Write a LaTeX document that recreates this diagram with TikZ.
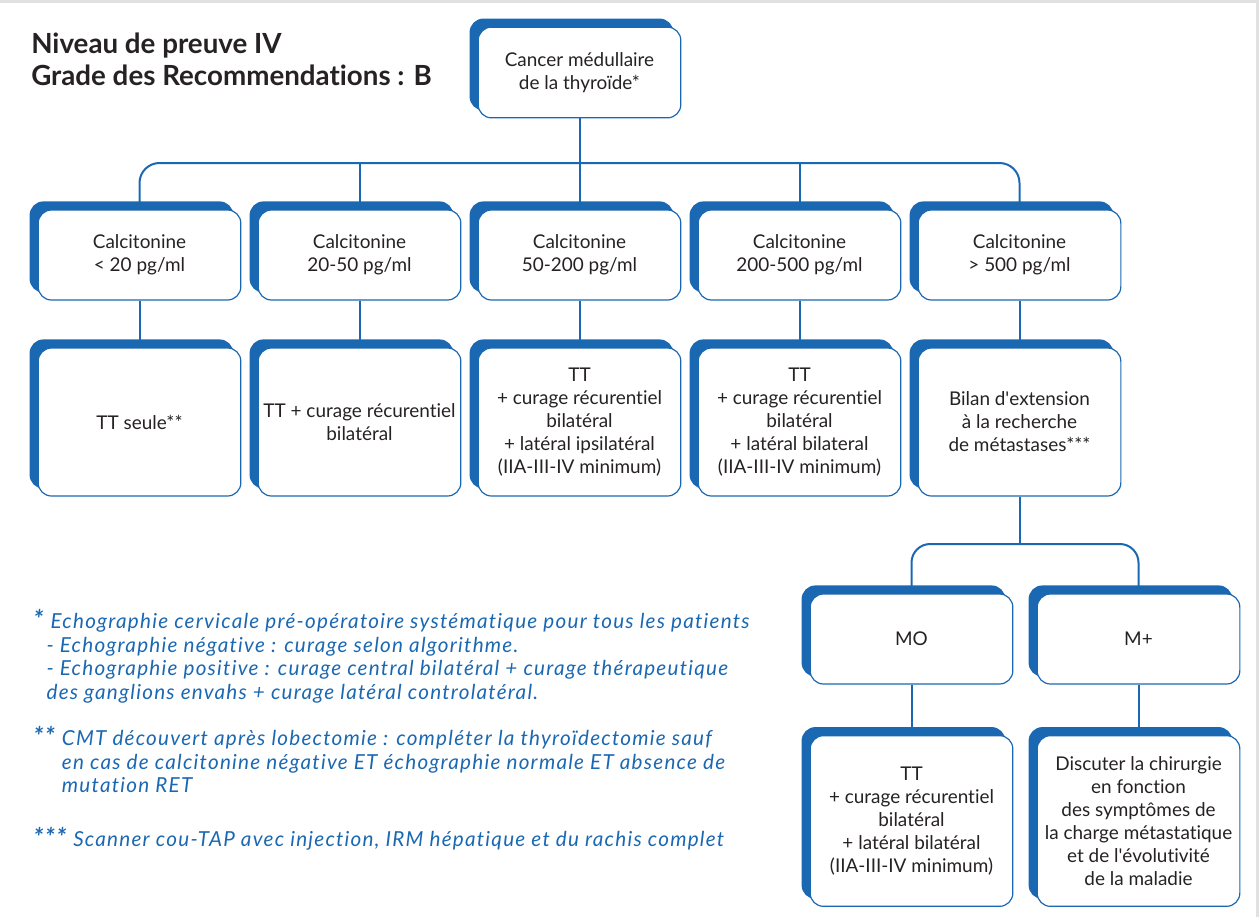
\documentclass[tikz,border=0pt]{standalone}
\usepackage{fontspec}
\setmainfont{Lato}[Ligatures=NoCommon]
\newfontfamily\notefont{Lato}[LetterSpace=6,Ligatures=NoCommon]
\usetikzlibrary{shadows,backgrounds}
\definecolor{mblue}{RGB}{27,104,178}
\definecolor{ink}{RGB}{38,34,35}
\definecolor{frame}{RGB}{225,225,225}
\newcommand{\stars}[1]{{\fontsize{19}{17.8}\selectfont\bfseries #1}}
\begin{document}
\begin{tikzpicture}[x=0.75pt,y=-0.75pt,
  box/.style={draw=mblue, line width=0.9pt, fill=white, rounded corners=10pt,
    minimum width=152pt, align=center, text=ink, inner sep=1pt,
    font=\fontsize{14.2}{17.3}\selectfont,
    copy shadow={shadow xshift=-6pt, shadow yshift=6pt, fill=mblue, draw=mblue}},
  lvlone/.style={box, minimum height=67.5pt},
  lvltwo/.style={box, minimum height=111pt},
  lvlfour/.style={box, minimum height=128pt},
  conn/.style={draw=mblue, line width=1.5pt},
  note/.style={anchor=north west, align=left, inner sep=0pt, text=mblue,
    font=\notefont\fontsize{15.5}{17.8}\selectfont\itshape}]
\useasboundingbox (0,0) rectangle (1259,917);

% thin page frame along the top and right edges
\fill[frame] (0,0) rectangle (1259,3);
\fill[frame] (1256,0) rectangle (1259,917);

% title
\node[anchor=north west, align=left, inner sep=0pt, text=ink,
  font=\fontsize{20.8}{24}\selectfont\bfseries] (title) at (31,33)
  {Niveau de preuve IV\\Grade des Recommendations : B};

% root
\node[box, minimum height=68pt] (root) at (579.5,72.5) {Cancer médullaire\\de la thyroïde*};

% calcitonine levels
\node[lvlone] (c1) at (139.5,255) {Calcitonine\\< 20 pg/ml};
\node[lvlone] (c2) at (359.5,255) {Calcitonine\\20-50 pg/ml};
\node[lvlone] (c3) at (579.5,255) {Calcitonine\\50-200 pg/ml};
\node[lvlone] (c4) at (799.5,255) {Calcitonine\\200-500 pg/ml};
\node[lvlone] (c5) at (1019.5,255) {Calcitonine\\> 500 pg/ml};

% treatments
\node[lvltwo] (t1) at (139.5,422) {TT seule**};
\node[lvltwo] (t2) at (359.5,422) {TT + curage récurentiel\\bilatéral};
\node[lvltwo] (t3) at (579.5,422) {TT\\+ curage récurentiel\\bilatéral\\+ latéral ipsilatéral\\(IIA-III-IV minimum)};
\node[lvltwo] (t4) at (799.5,422) {TT\\+ curage récurentiel\\bilatéral\\+ latéral bilateral\\(IIA-III-IV minimum)};
\node[lvltwo] (t5) at (1019.5,422) {Bilan d\textquotesingle extension\\à la recherche\\de métastases***};

% metastatic status
\node[lvlone] (mo) at (911.5,639) {MO};
\node[lvlone] (mp) at (1138.5,639) {M+};

% final decisions
\node[lvlfour] (f1) at (911.5,821) {TT\\+ curage récurentiel\\bilatéral\\+ latéral bilatéral\\(IIA-III-IV minimum)};
\node[lvlfour] (f2) at (1138.5,821) {Discuter la chirurgie\\en fonction\\des symptômes de\\la charge métastatique\\et de l\textquotesingle évolutivité\\de la maladie};

% connectors
\begin{scope}[on background layer]
  \coordinate (busa) at (0,163);
  \coordinate (busb) at (0,544);
  \draw[conn] (root.south) -- (root.south |- busa);
  \draw[conn, rounded corners=15pt] (c1.north) -- (c1.north |- busa) -- (c5.north |- busa) -- (c5.north);
  \foreach \n in {c2,c3,c4} \draw[conn] (\n.north |- busa) -- (\n.north);
  \foreach \a/\b in {c1/t1,c2/t2,c3/t3,c4/t4,c5/t5} \draw[conn] (\a.south) -- (\b.north);
  \draw[conn] (t5.south) -- (t5.south |- busb);
  \draw[conn, rounded corners=14pt] (mo.north) -- (mo.north |- busb) -- (mp.north |- busb) -- (mp.north);
  \draw[conn] (mo.south) -- (f1.north);
  \draw[conn] (mp.south) -- (f2.north);
\end{scope}

% footnotes
\node[note] (n1) at (33,609)
  {\makebox[13pt][l]{\stars{*}}Echographie cervicale pré-opératoire systématique pour tous les patients\\
   \hspace*{10pt}- Echographie négative : curage selon algorithme.\\
   \hspace*{10pt}- Echographie positive : curage central bilatéral + curage thérapeutique\\
   \hspace*{10pt}des ganglions envahs + curage latéral controlatéral.};
\node[note] (n2) at (33,726)
  {\makebox[21.5pt][l]{\stars{**}}CMT découvert après lobectomie : compléter la thyroïdectomie sauf\\
   \hspace*{21.5pt}en cas de calcitonine négative ET échographie normale ET absence de\\
   \hspace*{21.5pt}mutation RET};
\node[note] (n3) at (33,827)
  {\makebox[30pt][l]{\stars{***}}Scanner cou-TAP avec injection, IRM hépatique et du rachis complet};
\end{tikzpicture}
\end{document}
